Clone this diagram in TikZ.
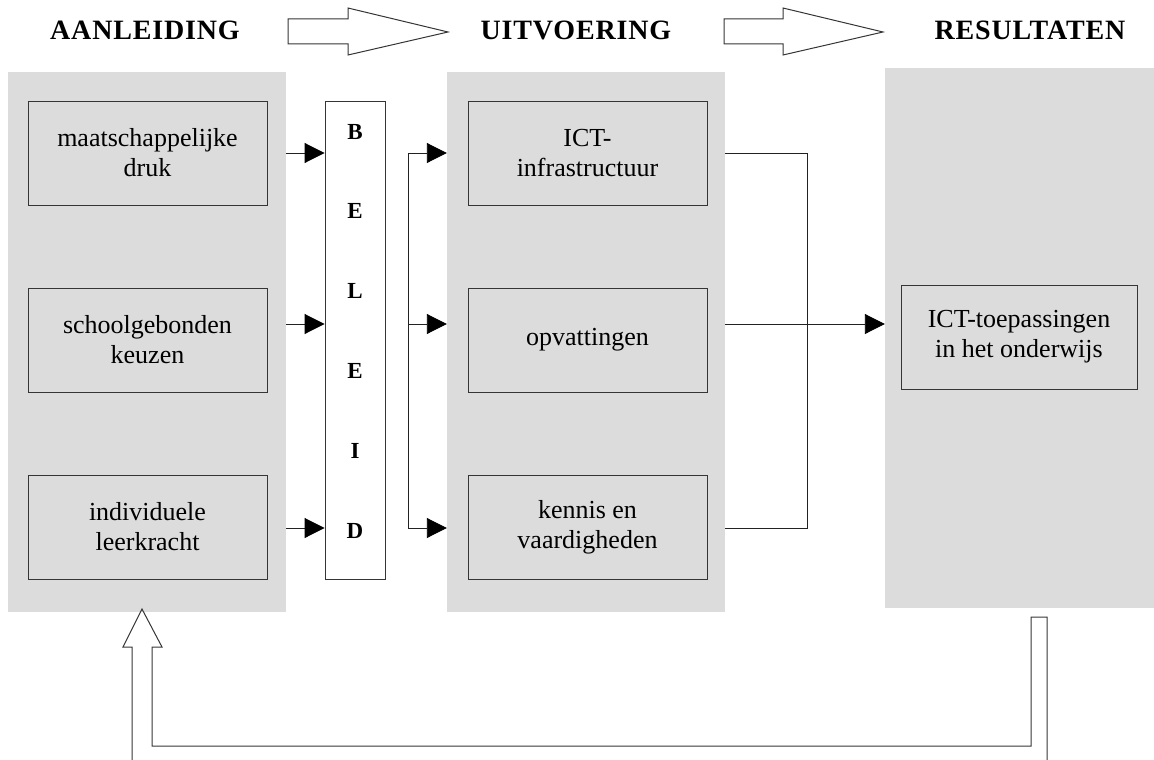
\documentclass[tikz,border=0pt]{standalone}
\usepackage{fontspec}
\setmainfont{Liberation Serif}
\usetikzlibrary{arrows.meta}
\definecolor{panelgrey}{HTML}{DCDCDC}
\definecolor{edgegrey}{HTML}{353535}
\definecolor{linegrey}{HTML}{222222}
\begin{document}
\begin{tikzpicture}[x=1pt,y=-1pt,
  panel/.style={fill=panelgrey,draw=none,minimum width=#1,minimum height=540pt,inner sep=0pt},
  itembox/.style={fill=panelgrey,draw=edgegrey,line width=0.9pt,minimum width=239pt,minimum height=104pt,
    align=center,inner sep=0pt,font=\fontsize{26}{30}\selectfont},
  heading/.style={anchor=base,font=\addfontfeature{LetterSpace=3}\fontsize{28}{32}\selectfont\bfseries},
  letter/.style={anchor=base,font=\fontsize{23}{26}\selectfont\bfseries},
  conn/.style={draw=linegrey,line width=0.9pt},
  arr/.style={conn,-{Triangle[length=20pt,width=20pt,fill=black,color=black]}},
  bigarrow/.style={draw=edgegrey,line width=1pt,fill=white,line join=miter}
]
\useasboundingbox (0,0) rectangle (1154,760);

% column headings
\node[heading] (hA) at (145,40) {AANLEIDING};
\node[heading] (hU) at (576,40) {UITVOERING};
\node[heading] (hR) at (1030,40) {RESULTATEN};

% hollow block arrows between the headings
\draw[bigarrow] (288,19) -- (348,19) -- (348,8) -- (448,32) -- (348,55) -- (348,44) -- (288,44) -- cycle;
\draw[bigarrow] (724,19) -- (783,19) -- (783,8) -- (883,32) -- (783,55) -- (783,44) -- (724,44) -- cycle;

% grey panels
\node[panel=278pt] (lp) at (147,342) {};
\node[panel=278pt] (mp) at (586,342) {};
\node[panel=269pt] (rp) at (1019.5,338) {};

% left column
\node[itembox] (lb1) at (147.5,153) {maatschappelijke\\druk};
\node[itembox] (lb2) at (147.5,340) {schoolgebonden\\keuzen};
\node[itembox] (lb3) at (147.5,527) {individuele\\leerkracht};

% middle column
\node[itembox] (mb1) at (587.5,153) {ICT-\\infrastructuur};
\node[itembox] (mb2) at (587.5,340) {opvattingen};
\node[itembox] (mb3) at (587.5,527) {kennis en\\vaardigheden};

% result
\node[itembox,minimum width=236pt] (res) at (1019,337) {ICT-toepassingen\\in het onderwijs};

% policy column
\node[draw=edgegrey,line width=0.9pt,fill=white,minimum width=60pt,minimum height=478pt,inner sep=0pt] (beleid) at (355,340) {};
\foreach \ch [count=\i from 0] in {B,E,L,E,I,D}
  \node[letter] (let\i) at (355,{139+79.8*\i}) {\ch};

% row levels of the connectors
\coordinate (row1) at (0,153);
\coordinate (row2) at (0,324);
\coordinate (row3) at (0,528);
\coordinate (fan) at (408,0);
\coordinate (join) at (807,0);

% causes into policy
\draw[arr] (lp.east |- row1) -- (beleid.west |- row1);
\draw[arr] (lp.east |- row2) -- (beleid.west |- row2);
\draw[arr] (lp.east |- row3) -- (beleid.west |- row3);

% policy fanned out to the implementation
\draw[conn] (fan |- row1) -- (fan |- row3);
\draw[arr] (fan |- row1) -- (mp.west |- row1);
\draw[arr] (fan |- row2) -- (mp.west |- row2);
\draw[arr] (fan |- row3) -- (mp.west |- row3);

% implementation gathered into the result
\draw[conn] (mp.east |- row1) -- (join |- row1) -- (join |- row3) -- (mp.east |- row3);
\draw[arr] (mp.east |- row2) -- (rp.west |- row2);

% feedback arrow from results back to the causes
\draw[bigarrow,fill=none] (132,760) -- (132,647) -- (123,647) -- (142,609) -- (162,647) -- (152,647)
  -- (152,746) -- (1031,746) -- (1031,617) -- (1047,617) -- (1047,760);
\end{tikzpicture}
\end{document}
